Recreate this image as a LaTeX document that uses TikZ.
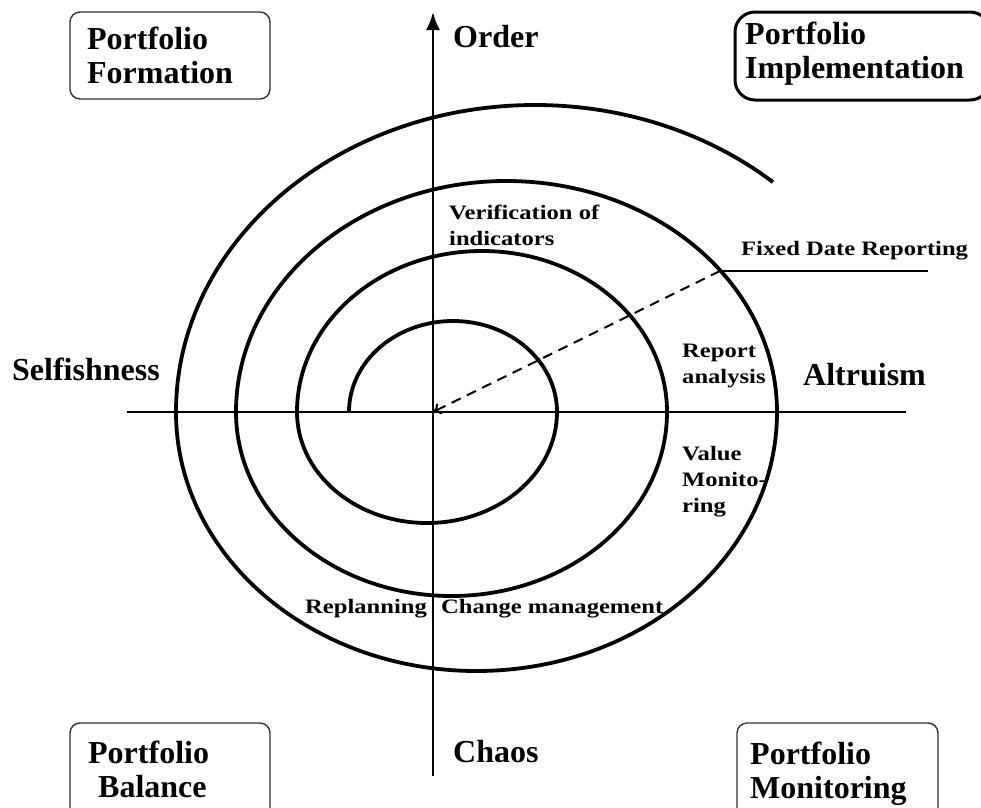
\documentclass[tikz,border=0pt]{standalone}
\usepackage{fontspec}
\setmainfont{Liberation Serif}
\newfontfamily\labelfont{Liberation Serif}[FakeStretch=1.2]
\usetikzlibrary{arrows.meta}
\tikzset{
  title/.style={font=\fontsize{32}{34}\selectfont\bfseries, inner sep=0pt, anchor=base west, align=left},
  lbl/.style={font=\labelfont\fontsize{20.5}{26}\selectfont\bfseries, inner sep=0pt, anchor=base west, align=left},
  spiral/.style={line width=3.8pt},
  box/.style={line width=1.4pt, rounded corners=10pt, draw=black!80}
}
\begin{document}
\begin{tikzpicture}[x=1pt, y=1pt]
    \useasboundingbox (-433,-395) rectangle (548,412);
    \clip (-433,-395) rectangle (548,412);

    \draw[line width=2pt] (-306,0) -- (473,0);
    \draw[line width=2.6pt, -{Latex[length=18pt,width=14pt]}] (0,-364) -- (0,400);

    \draw[spiral] (-84,0)
      arc[start angle=180, end angle=0, x radius=104pt, y radius=91pt]
      arc[start angle=0, end angle=-180, x radius=130pt, y radius=111pt]
      arc[start angle=180, end angle=0, x radius=185pt, y radius=161pt]
      arc[start angle=0, end angle=-180, x radius=215.5pt, y radius=184pt]
      arc[start angle=180, end angle=0, x radius=270.5pt, y radius=231pt]
      arc[start angle=0, end angle=-180, x radius=300.5pt, y radius=259pt]
      arc[start angle=180, end angle=48.5, x radius=359pt, y radius=307pt];

    \coordinate (o) at (0,0);
    \coordinate (fdr) at (287,141);
    \coordinate (fdrend) at (495,141);
    \draw[line width=2pt, dash pattern=on 10pt off 7pt, -{To[length=8pt,width=12pt]}] (fdr) -- (o);
    \draw[line width=1.4pt] (fdr) -- (fdrend);

    \draw[box] (-363,400) rectangle (-163,313);
    \draw[box, line width=3pt, rounded corners=20pt, draw=black] (302,400) rectangle (557,312);
    \draw[box] (-363,-311) rectangle (-163,-420);
    \draw[box] (304,-311) rectangle (505,-420);

    \node[title] (form) at (-346,329) {Portfolio\\Formation};
    \node[title] (impl) at (312,334) {Portfolio\\Implementation};
    \node[title] (bal) at (-345,-385) {Portfolio\\\hspace*{10pt}Balance};
    \node[title] (mon) at (317,-386) {Portfolio\\Monitoring};

    \node[title] (order) at (20,365) {Order};
    \node[title] (chaos) at (20,-350) {Chaos};
    \node[title] (self) at (-421,32) {Selfishness};
    \node[title] (altr) at (370,27) {Altruism};

    \node[lbl] (verif) at (16,167) {Verification of\\indicators};
    \node[lbl] (report) at (249,29) {Report\\analysis};
    \node[lbl] (value) at (249,-100) {Value\\Monito-\\ring};
    \node[lbl] (replan) at (-128,-201) {Replanning};
    \node[lbl] (change) at (8,-201) {Change management};
    \node[lbl] (fixed) at (308,157) {Fixed Date Reporting};
  \end{tikzpicture}
\end{document}
